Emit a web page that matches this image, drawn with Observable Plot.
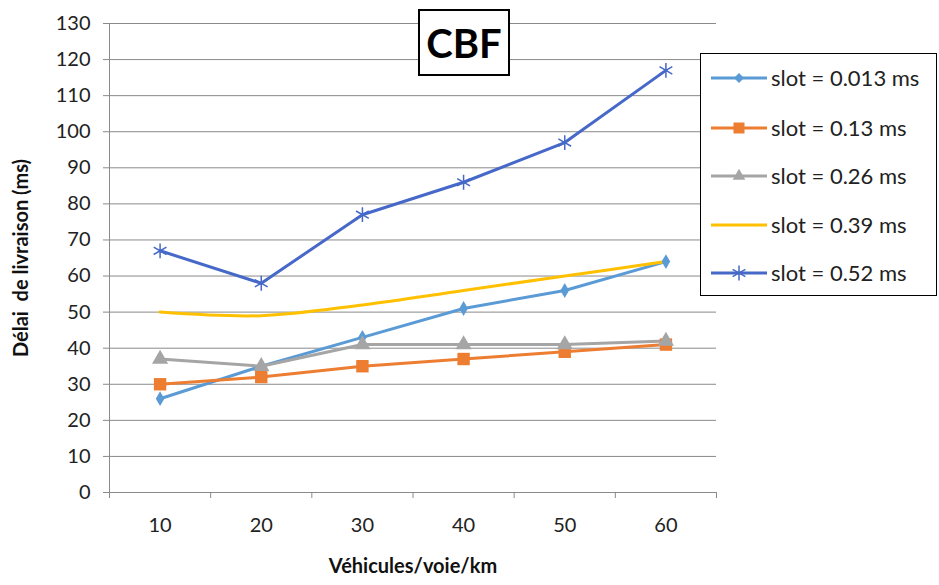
<!DOCTYPE html>
<html>
<head>
<meta charset="utf-8">
<script src="https://cdn.jsdelivr.net/npm/d3@7"></script>
<script src="https://cdn.jsdelivr.net/npm/@observablehq/plot@0.6"></script>
<style>
  body { margin: 0; background: #fff; }
  #wrap { position: relative; width: 939px; height: 585px; font-family: Lato, "Open Sans", sans-serif; }
  #title {
    position: absolute; left: 418px; top: 9px; width: 88px; height: 63px;
    border: 2px solid #000; background: #fff; display: flex; align-items: center; justify-content: center;
    font-weight: 700; font-size: 40px; color: #000;
  }
  #legend {
    position: absolute; left: 700px; top: 53px; width: 235px; height: 241px;
    border: 1.5px solid #000; background: #fff;
  }
  .entry { position: absolute; left: 10px; display: flex; align-items: center; font-size: 22px; color: #222; }
  .entry svg { margin-right: 4px; }
</style>
</head>
<body>
<div id="wrap">
  <div id="chart"></div>
  <div id="title">CBF</div>
  <div id="legend"></div>
</div>
<script>
// Vehicle density (vehicles/lane/km)
const categories = [10, 20, 30, 40, 50, 60];
// Delivery delay (ms) for each slot duration
const slot0013 = [26, 35, 43, 51, 56, 64];
const slot013  = [30, 32, 35, 37, 39, 41];
const slot026  = [37, 35, 41, 41, 41, 42];
const slot039  = [50, 49, 52, 56, 60, 64];
const slot052  = [67, 58, 77, 86, 97, 117];
const seriesNames = ["slot = 0.013 ms", "slot = 0.13 ms", "slot = 0.26 ms", "slot = 0.39 ms", "slot = 0.52 ms"];
const yTicks = [0, 10, 20, 30, 40, 50, 60, 70, 80, 90, 100, 110, 120, 130];

const seriesStyle = [
  {values: slot0013, color: "#5b9bd5", symbol: "diamond", r: 4.5, curve: "linear"},
  {values: slot013,  color: "#ed7d31", symbol: "square",  r: 7, curve: "linear"},
  {values: slot026,  color: "#a5a5a5", symbol: "triangle", r: 6, curve: "linear"},
  {values: slot039,  color: "#ffc000", symbol: null,      r: 0, curve: "catmull-rom"},
  {values: slot052,  color: "#4668c8", symbol: "asterisk", r: 7, curve: "linear"}
];

const rows = seriesStyle.map((s, i) =>
  categories.map((c, j) => ({x: c, y: s.values[j], series: seriesNames[i]})));

// category boundaries for the x-axis tick marks
const step = categories[1] - categories[0];
const bounds = categories.map(c => c - step / 2).concat(categories[categories.length - 1] + step / 2);

const marks = [
  Plot.ruleY(yTicks, {y: d => d, stroke: "#8a8a8a", strokeWidth: 1}),
  Plot.ruleX([bounds[0]], {x: d => d, y1: 0, y2: yTicks[yTicks.length - 1], stroke: "#8a8a8a"}),
  Plot.axisY({ticks: yTicks, tickSize: 6, tickPadding: 13, fontSize: 20, stroke: "#8a8a8a",
    label: "Délai  de livraison (ms)", labelAnchor: "center", labelOffset: 96, labelArrow: "none"}),
  Plot.axisX({ticks: bounds, tickSize: 6, tickFormat: () => "", stroke: "#8a8a8a", label: null}),
  Plot.axisX({ticks: categories, tickSize: 0, tickPadding: 25, fontSize: 20, tickFormat: d => String(d),
    label: "Véhicules/voie/km", labelAnchor: "center", labelOffset: 80, labelArrow: "none"})
];

seriesStyle.forEach((s, i) => {
  marks.push(Plot.line(rows[i], {x: "x", y: "y", stroke: s.color, strokeWidth: 3, curve: s.curve}));
});
seriesStyle.forEach((s, i) => {
  if (!s.symbol) return;
  if (s.symbol === "asterisk") {
    marks.push(Plot.dot(rows[i], {x: "x", y: "y", symbol: "asterisk", r: s.r, stroke: s.color, strokeWidth: 1.5}));
  } else {
    marks.push(Plot.dot(rows[i], {x: "x", y: "y", symbol: s.symbol, r: s.r, fill: s.color, stroke: "none"}));
  }
});

const chart = Plot.plot({
  width: 939,
  height: 585,
  marginLeft: 109,
  marginRight: 223,
  marginTop: 23,
  marginBottom: 93,
  style: {fontFamily: "Lato, 'Open Sans', sans-serif", color: "#222", background: "#fff"},
  x: {type: "linear", domain: [bounds[0], bounds[bounds.length - 1]]},
  y: {type: "linear", domain: [0, yTicks[yTicks.length - 1]]},
  marks
});

// bold axis titles without direction arrows
chart.querySelectorAll("[aria-label='y-axis label'] text, [aria-label='x-axis label'] text").forEach(t => {
  t.textContent = t.textContent.replace(/\s*[↑→↓←]\s*/g, "");
  t.style.fontWeight = "700";
  t.style.fontSize = "20px";
  t.style.fill = "#111";
});
document.getElementById("chart").appendChild(chart);

// legend
const legend = document.getElementById("legend");
const ys = [23, 73, 121, 170, 218];
const symbolTypes = {diamond: d3.symbolDiamond2, square: d3.symbolSquare2, triangle: d3.symbolTriangle2, asterisk: d3.symbolAsterisk};
seriesStyle.forEach((s, i) => {
  const e = document.createElement("div");
  e.className = "entry";
  e.style.top = (ys[i] - 13) + "px";
  let m = "";
  if (s.symbol) {
    const p = d3.symbol(symbolTypes[s.symbol], Math.PI * s.r * s.r)();
    m = s.symbol === "asterisk"
      ? `<path d="${p}" transform="translate(28,12)" stroke="${s.color}" stroke-width="1.5" fill="none"/>`
      : `<path d="${p}" transform="translate(28,12)" fill="${s.color}"/>`;
  }
  e.innerHTML = `<svg width="56" height="24"><line x1="0" x2="56" y1="12" y2="12" stroke="${s.color}" stroke-width="3"/>${m}</svg><span>${seriesNames[i]}</span>`;
  legend.appendChild(e);
});
</script>
</body>
</html>
